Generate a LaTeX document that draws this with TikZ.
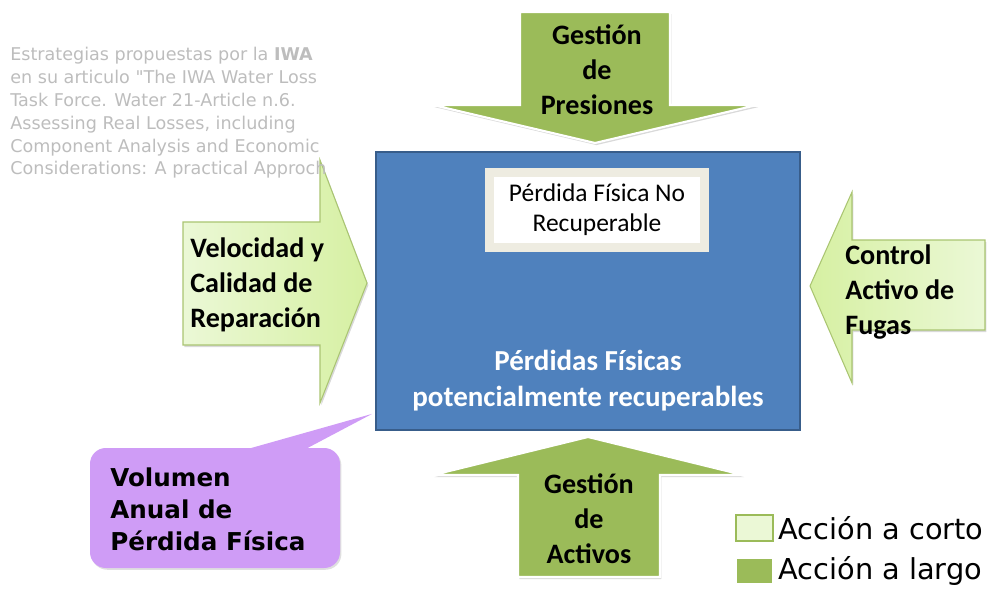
\documentclass[tikz,border=0pt]{standalone}
\usepackage{fontspec}
\setmainfont{Carlito}
\newfontfamily\verdana{DejaVu Sans}
\usetikzlibrary{calc,positioning,shadows}
\definecolor{boxblue}{HTML}{4F81BD}
\definecolor{boxedge}{HTML}{385D8A}
\definecolor{cream}{HTML}{EEECE1}
\definecolor{darkgreen}{HTML}{9BBB59}
\definecolor{palegreen}{HTML}{EBF8D6}
\definecolor{limegreen}{HTML}{D6F0A2}
\definecolor{lilac}{HTML}{CF9CF6}
\definecolor{quotegray}{HTML}{BDBDBD}

\begin{document}
\begin{tikzpicture}[x=0.02cm, y=-0.02cm,
  longarrow/.style={fill=darkgreen, draw=white, line width=1.2pt, drop shadow={opacity=0.3, shadow xshift=0.8pt, shadow yshift=-1.2pt}},
  shortarrow/.style={draw=darkgreen!85, line width=0.6pt, drop shadow={opacity=0.3, shadow xshift=0.8pt, shadow yshift=-1.2pt}},
  arrowtext/.style={font=\bfseries\fontsize{16}{20}\selectfont, inner sep=0pt},
  keybox/.style={minimum width=0.74cm, minimum height=0.52cm, inner sep=0pt, line width=0.8pt},
  keytext/.style={font=\verdana\fontsize{16.4}{20}\selectfont, inner sep=0pt, right=2.5pt of #1}]

\useasboundingbox (0,0) rectangle (989,590);

% caja central
\node[fill=boxblue, draw=boxedge, line width=1pt, minimum width=8.48cm, minimum height=5.56cm, drop shadow={opacity=0.25, shadow xshift=0.6pt, shadow yshift=-0.8pt}] (perdidas) at (588,291) {};
\node[font=\bfseries\fontsize{16.5}{20.5}\selectfont, text=white, align=center] (recup) at (588,381) {Pérdidas Físicas\\potencialmente recuperables};
\node[draw=cream, fill=white, line width=5.5pt, minimum width=4.3cm, minimum height=1.5cm, align=center, font=\fontsize{14.5}{17}\selectfont] (norec) at (597,210) {Pérdida Física No\\Recuperable};

% flechas
\draw[longarrow] (520,12) -- (670,12) -- (670,105) -- (757,105) -- (595,143) -- (433,105) -- (520,105) -- cycle;
\node[arrowtext, align=center] (presion) at (597,70) {Gestión\\de\\Presiones};

\draw[longarrow] (588,437) -- (743,475) -- (660,475) -- (660,577) -- (518,577) -- (518,475) -- (433,475) -- cycle;
\node[arrowtext, align=center] (activos) at (589,519) {Gestión\\de\\Activos};

\draw[shortarrow, left color=palegreen, right color=limegreen] (183,222) -- (320,222) -- (320,160) -- (367,283) -- (320,403) -- (320,345) -- (183,345) -- cycle;
\node[arrowtext, align=left, anchor=west] (velocidad) at (190,285) {Velocidad y\\Calidad de\\Reparación};

\draw[shortarrow, left color=limegreen, right color=palegreen] (810,286) -- (852,192) -- (852,240) -- (985,240) -- (985,330) -- (852,330) -- (852,383) -- cycle;
\node[arrowtext, align=left, anchor=west] (fugas) at (845,292) {Control\\Activo de\\Fugas};

% globo
\fill[lilac, rounded corners=9pt, drop shadow={opacity=0.25, shadow xshift=0.8pt, shadow yshift=-1pt}] (90,448) rectangle (340,568);
\fill[lilac] (237,452) -- ($(perdidas.south west)+(-3,-17)$) -- (300,452) -- cycle;
\node[font=\verdana\bfseries\fontsize{14}{18.2}\selectfont, align=left, anchor=west, inner sep=0pt] (volumen) at (110,509) {Volumen\\Anual de\\Pérdida Física};

% fuente
\node[font=\verdana\fontsize{10}{13}\selectfont, text=quotegray, align=left, anchor=west, inner sep=0pt] (fuente) at (10,113) {Estrategias propuestas por la \textbf{IWA}\\en su articulo "The IWA Water Loss\\Task Force. Water 21-Article n.6.\\Assessing Real Losses, including\\Component Analysis and Economic\\Considerations: A practical Approch};

% leyenda
\node[keybox, fill=palegreen, draw=darkgreen] (corto) at (754.5,528) {};
\node[keytext=corto] (cortotxt) {Acción a corto};
\node[keybox, fill=darkgreen, draw=white, drop shadow={opacity=0.35, shadow xshift=0.5pt, shadow yshift=-0.5pt}] (largo) at (754.5,571) {};
\node[keytext=largo] (largotxt) {Acción a largo};

\end{tikzpicture}
\end{document}
